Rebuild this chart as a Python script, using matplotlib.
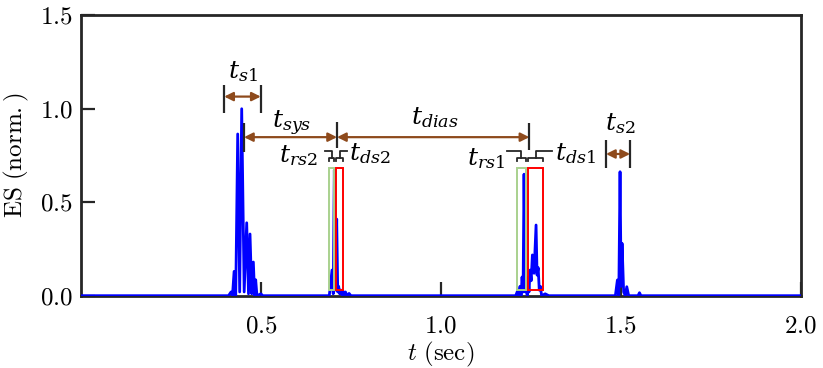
import matplotlib
matplotlib.use("Agg")
import matplotlib.pyplot as plt
from matplotlib.patches import Rectangle

plt.rcParams.update({"font.family": "Liberation Serif", "mathtext.fontset": "cm"})

# ES envelope (time in s, normalised amplitude)
ES_T = [0.0, 0.410, 0.417, 0.421, 0.4255, 0.430, 0.4355, 0.4410, 0.4466, 0.4535,
        0.4605, 0.4655, 0.4697, 0.4745, 0.4790, 0.4825, 0.4855, 0.4890, 0.500, 0.505,
        0.690, 0.6976, 0.7010, 0.7040, 0.7075, 0.7106, 0.7135, 0.716, 0.719, 0.722,
        0.725, 0.728, 0.731, 0.735, 0.739, 0.745, 0.750,
        1.208, 1.214, 1.217, 1.220, 1.223, 1.2257, 1.2285, 1.2312, 1.2345, 1.237,
        1.240, 1.2425, 1.245, 1.248, 1.251, 1.2544, 1.259, 1.2646, 1.2674, 1.2705,
        1.2735, 1.2766, 1.280, 1.290, 1.300,
        1.485, 1.4906, 1.4945, 1.4980, 1.5010, 1.5036, 1.508, 1.5125, 1.5167, 1.522,
        1.548, 1.552, 1.556, 2.0]
ES_V = [0.0, 0.0, 0.02, 0.0, 0.13, 0.0, 0.865, 0.02, 1.0, 0.02,
        0.39, 0.01, 0.33, 0.01, 0.18, 0.0, 0.085, 0.0, 0.01, 0.0,
        0.0, 0.137, 0.01, 0.673, 0.03, 0.41, 0.02, 0.05, 0.01, 0.03,
        0.005, 0.025, 0.005, 0.02, 0.0, 0.012, 0.0,
        0.0, 0.03, 0.0, 0.05, 0.0, 0.10, 0.02, 0.65, 0.02, 0.06,
        0.0, 0.10, 0.02, 0.137, 0.08, 0.218, 0.12, 0.378, 0.11, 0.15,
        0.03, 0.05, 0.0, 0.01, 0.0,
        0.0, 0.084, 0.0, 0.663, 0.05, 0.28, 0.02, 0.0, 0.048, 0.0,
        0.0, 0.016, 0.0, 0.0]

# boxes marking the rise (green) and decay (red) of each sound: (t0, t1)
RISE_BOXES = [(0.689, 0.704), (1.211, 1.236)]
DECAY_BOXES = [(0.708, 0.729), (1.243, 1.285)]
BOX_Y = (0.033, 0.685)

X_TICKS = [0.5, 1.0, 1.5, 2.0]
Y_TICKS = [0.0, 0.5, 1.0, 1.5]

BROWN = "#8e4a1c"
DARK = "#262626"

fig = plt.figure(figsize=(8.23, 3.68), dpi=100)
ax = fig.add_axes([0.0984, 0.1965, 0.8745, 0.762])

ax.plot(ES_T, ES_V, color="#0000ff", lw=2.0, zorder=3)

for t0, t1 in RISE_BOXES:
    ax.add_patch(Rectangle((t0, BOX_Y[0]), t1 - t0, BOX_Y[1] - BOX_Y[0],
                           fill=False, ec="#a9d18e", lw=1.4, zorder=4))
for t0, t1 in DECAY_BOXES:
    ax.add_patch(Rectangle((t0, BOX_Y[0]), t1 - t0, BOX_Y[1] - BOX_Y[0],
                           fill=False, ec="#ff0000", lw=1.4, zorder=4))


def bar(x, y0, y1):
    ax.plot([x, x], [y0, y1], color=DARK, lw=1.6, zorder=5, solid_capstyle="butt")


def span(x0, x1, y):
    ax.annotate("", xy=(x1, y), xytext=(x0, y),
                arrowprops=dict(arrowstyle="<|-|>", color=BROWN, lw=1.6,
                                mutation_scale=13, shrinkA=0, shrinkB=0), zorder=5)


def label(x, y, s, ha="center"):
    ax.text(x, y, s, ha=ha, va="center", fontsize=18, math_fontfamily="dejavuserif", zorder=6)


# t_s1
bar(0.398, 0.979, 1.127); bar(0.4995, 0.979, 1.127)
span(0.398, 0.4995, 1.065)
label(0.449, 1.20, r"$t_{s1}$")
# t_sys / t_dias
bar(0.453, 0.769, 0.924); bar(0.7115, 0.79, 0.93); bar(1.246, 0.78, 0.922)
span(0.453, 0.7115, 0.848)
span(0.7115, 1.246, 0.848)
label(0.586, 0.92, r"$t_{sys}$")
label(0.984, 0.955, r"$t_{dias}$")
# t_s2
bar(1.459, 0.685, 0.833); bar(1.526, 0.685, 0.833)
span(1.459, 1.526, 0.758)
label(1.498, 0.92, r"$t_{s2}$")


def brace(t0, t1, stem_end):
    # square brace over a box, stem rising from the middle then turning toward its label
    yb, yt, yd = 0.738, 0.774, 0.722
    m = (t0 + t1) / 2
    ax.plot([t0, t0, t1, t1], [yd, yb, yb, yd], color=DARK, lw=1.3, zorder=5)
    ax.plot([m, m, stem_end], [yb, yt, yt], color=DARK, lw=1.3, zorder=5)


brace(0.689, 0.704, 0.677)
brace(0.708, 0.729, 0.738)
brace(1.211, 1.236, 1.185)
brace(1.243, 1.285, 1.308)
label(0.659, 0.75, r"$t_{rs2}$", ha="right")
label(0.745, 0.76, r"$t_{ds2}$", ha="left")
label(1.178, 0.735, r"$t_{rs1}$", ha="right")
label(1.318, 0.76, r"$t_{ds1}$", ha="left")

ax.set_xlim(0, 2.0)
ax.set_ylim(0, 1.5)
ax.set_xticks(X_TICKS)
ax.set_yticks(Y_TICKS)
ax.set_xticklabels([rf"$\mathrm{{{v:.1f}}}$" for v in X_TICKS])
ax.set_yticklabels([rf"$\mathrm{{{v:.1f}}}$" for v in Y_TICKS])
ax.tick_params(direction="in", length=10, width=1.6, color=DARK, labelsize=18,
               top=False, right=False)
ax.tick_params(axis="x", pad=14)
ax.tick_params(axis="y", pad=6)
for sp in ax.spines.values():
    sp.set_linewidth(2.0)
    sp.set_color(DARK)
ax.set_xlabel(r"$t\ \mathrm{(sec)}$", fontsize=18, labelpad=2)
ax.set_ylabel(r"$\mathrm{ES\ (norm.)}$", fontsize=18, labelpad=6)

fig.savefig("out.png", dpi=100)
